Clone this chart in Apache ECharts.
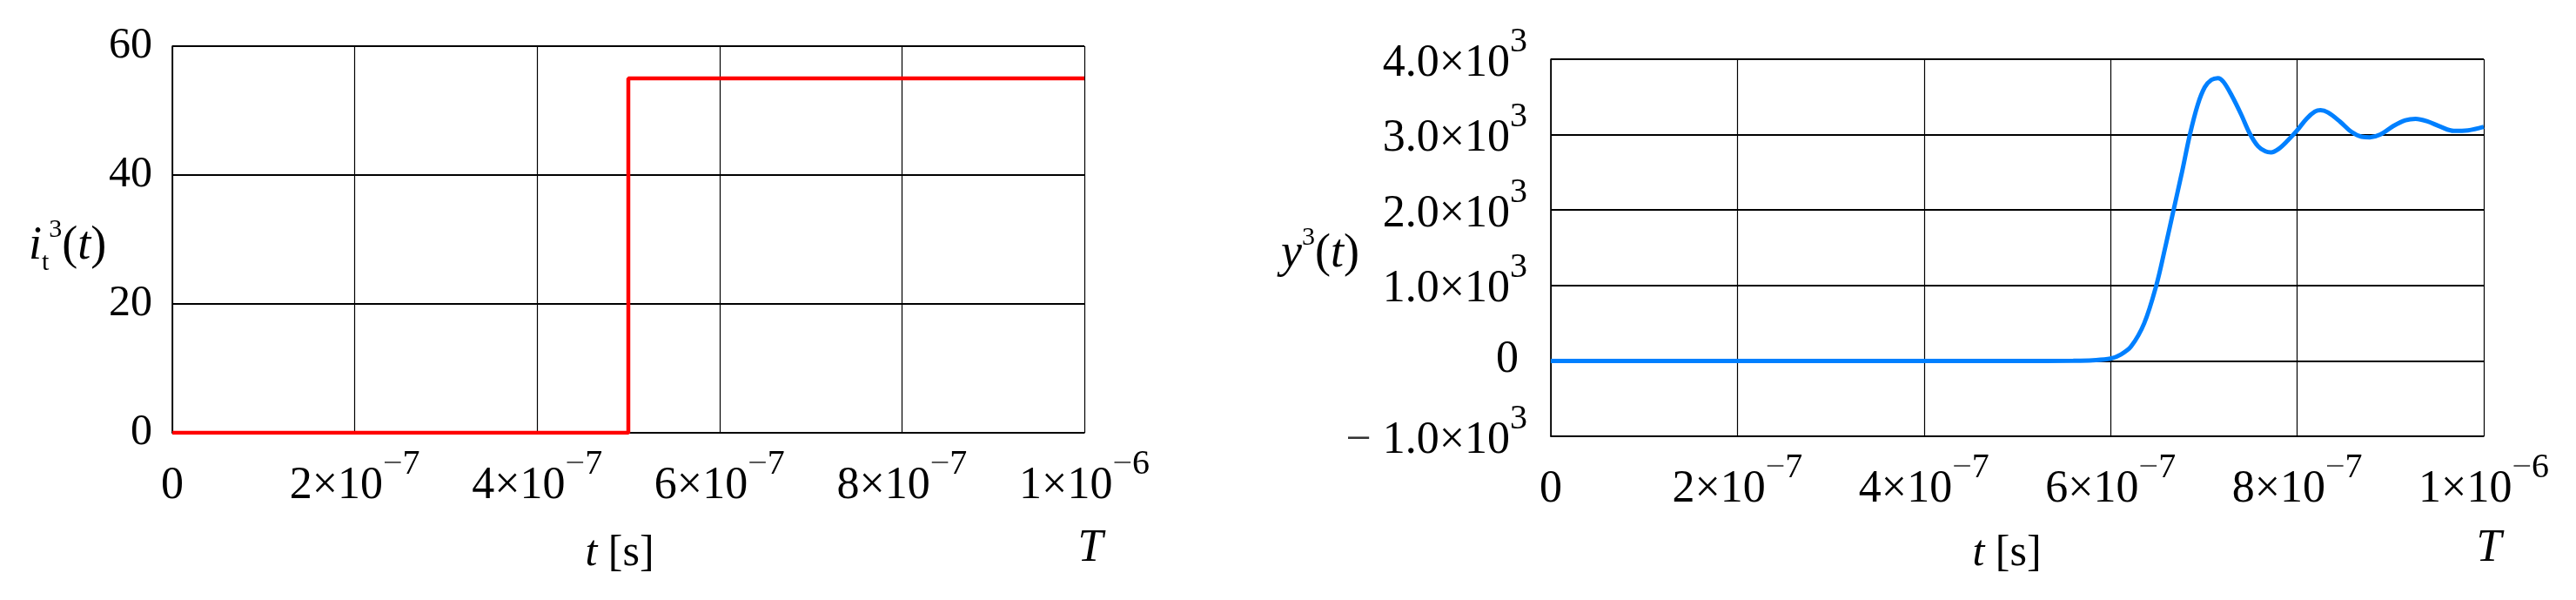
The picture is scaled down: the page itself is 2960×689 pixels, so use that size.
<!DOCTYPE html>
<html><head><meta charset="utf-8">
<script src="https://cdn.jsdelivr.net/npm/echarts@6/dist/echarts.min.js"></script>
<style>html,body{margin:0;padding:0;background:#fff}#c{width:2960px;height:689px}</style>
</head><body><div id="c"></div>
<script>
// ---- tick labels ----
const xTickMant = ['0', '2', '4', '6', '8', '1'];
const xTickExp = ['', '7', '7', '7', '7', '6'];
const leftYTicks = ['0', '20', '40', '60'];
const rightYMant = ['1.0', '0', '1.0', '2.0', '3.0', '4.0'];
const rightYNeg = [true, false, false, false, false, false];

// ---- left chart: input current step i_t^3(t) ----
const stepT = [0, 5e-7, 5e-7, 1e-6];
const stepI = [0, 0, 55, 55];

// ---- right chart: response y^3(t) ----
const respT = [0, 0.1e-6, 0.2e-6, 0.3e-6, 0.4e-6, 0.5e-6, 0.56e-6, 0.581e-6, 0.600e-6, 0.611e-6,
  0.622e-6, 0.636e-6, 0.649e-6, 0.6585e-6, 0.6675e-6, 0.6765e-6, 0.685e-6, 0.6935e-6, 0.701e-6, 0.708e-6,
  0.715e-6, 0.721e-6, 0.730e-6, 0.740e-6, 0.749e-6, 0.758e-6, 0.766e-6, 0.772e-6, 0.780e-6, 0.790e-6,
  0.800e-6, 0.810e-6, 0.819e-6, 0.825e-6, 0.833e-6, 0.846e-6, 0.858e-6, 0.869e-6, 0.878e-6, 0.889e-6,
  0.903e-6, 0.916e-6, 0.927e-6, 0.939e-6, 0.954e-6, 0.968e-6, 0.983e-6, 1.0e-6];
const respY = [0, 0, 0, 0, 0, 0, 2, 8, 30, 84,
  191, 497, 1000, 1500, 2000, 2500, 3000, 3400, 3630, 3726,
  3750, 3700, 3515, 3267, 3019, 2847, 2778, 2765, 2809, 2923,
  3057, 3210, 3305, 3324, 3294, 3172, 3038, 2973, 2965, 3000,
  3114, 3191, 3210, 3179, 3103, 3050, 3057, 3103];

const FONT = "'Liberation Serif', 'DejaVu Serif', serif";
const BLACK = '#000';

const supRich = {
  m: { fontFamily: FONT, fontSize: 52, lineHeight: 71, verticalAlign: 'bottom', color: BLACK },
  neg: { fontFamily: FONT, fontSize: 52, lineHeight: 71, verticalAlign: 'bottom', color: '#333' },
  e: { fontFamily: FONT, fontSize: 40, lineHeight: 10, verticalAlign: 'top', color: BLACK },
  em: { fontFamily: FONT, fontSize: 40, lineHeight: 10, verticalAlign: 'top', color: '#555' },
  z: { fontFamily: FONT, fontSize: 52, lineHeight: 59, verticalAlign: 'bottom', color: BLACK },
  zs: { fontFamily: FONT, fontSize: 40, lineHeight: 10, verticalAlign: 'top', color: BLACK }
};

function xFmt(v) {
  const i = Math.round(v / 2e-7);
  if (i === 0) return '{m|' + xTickMant[0] + '}';
  return '{m|' + xTickMant[i] + '×10}{em|−}{e|' + xTickExp[i] + '}';
}
function rightYFmt(v) {
  const i = Math.round((v + 1000) / 1000);
  if (rightYMant[i] === '0') return '{z|0}{zs| }';
  return (rightYNeg[i] ? '{neg|− }' : '') + '{m|' + rightYMant[i] + '×10}{e|3}';
}
function leftYFmt(v) {
  return leftYTicks[Math.round(v / 20)];
}

const hSplit = { show: true, lineStyle: { color: '#000', width: 1.8 } };
const vSplit = { show: true, lineStyle: { color: '#000', width: 1.2 } };
const axLine = { show: true, onZero: false, lineStyle: { color: '#000', width: 1.6 } };

const titleRich = {
  it: { fontFamily: FONT, fontSize: 54, fontStyle: 'italic', lineHeight: 68, verticalAlign: 'middle', fill: BLACK },
  n: { fontFamily: FONT, fontSize: 54, lineHeight: 68, verticalAlign: 'middle', fill: BLACK },
  sub: { fontFamily: FONT, fontSize: 30, lineHeight: 10, verticalAlign: 'bottom', fill: BLACK },
  sup: { fontFamily: FONT, fontSize: 30, lineHeight: 10, verticalAlign: 'top', fill: BLACK }
};

const chart = echarts.init(document.getElementById('c'), null, { renderer: 'canvas' });
chart.setOption({
  animation: false,
  backgroundColor: '#fff',
  grid: [
    { left: 198, top: 53, width: 1048, height: 444, containLabel: false, outerBoundsMode: 'none' },
    { left: 1782, top: 68, width: 1072, height: 433, containLabel: false, outerBoundsMode: 'none' }
  ],
  xAxis: [0, 1].map(g => ({
    type: 'value', gridIndex: g, min: 0, max: 1e-6, interval: 2e-7,
    axisLine: axLine, axisTick: { show: false }, splitLine: vSplit,
    axisLabel: { formatter: xFmt, margin: 16, rich: supRich, showMinLabel: true, showMaxLabel: true, hideOverlap: false }
  })),
  yAxis: [
    { type: 'value', gridIndex: 0, min: 0, max: 60, interval: 20,
      axisLine: axLine, axisTick: { show: false }, splitLine: hSplit,
      axisLabel: { formatter: leftYFmt, margin: 23, fontFamily: FONT, fontSize: 50, color: BLACK } },
    { type: 'value', gridIndex: 1, min: -1000, max: 4000, interval: 1000,
      axisLine: axLine, axisTick: { show: false }, splitLine: hSplit,
      axisLabel: { formatter: rightYFmt, margin: 27, padding: [0, 0, 9, 0], rich: supRich } }
  ],
  series: [
    { type: 'line', xAxisIndex: 0, yAxisIndex: 0, symbol: 'none',
      data: stepT.map((t, k) => [t, stepI[k]]),
      lineStyle: { color: '#ff0000', width: 4.5 }, z: 5 },
    { type: 'line', xAxisIndex: 1, yAxisIndex: 1, symbol: 'none', smooth: 0.35,
      data: respT.map((t, k) => [t, respY[k]]),
      lineStyle: { color: '#0080ff', width: 5 }, z: 5 }
  ],
  graphic: [
    { type: 'text', x: 33, y: 283, style: {
        text: '{it|i}{sub|t}{sup|3}{n|(}{it|t}{n|)}', fill: BLACK, align: 'left', verticalAlign: 'middle',
        rich: titleRich } },
    { type: 'text', x: 1472, y: 292, style: {
        text: '{it|y}{sup|3}{n|(}{it|t}{n|)}', fill: BLACK, align: 'left', verticalAlign: 'middle',
        rich: titleRich } },
    { type: 'text', x: 712, y: 636, style: {
        text: '{it|t}{n| [s]}', fill: BLACK, align: 'center', verticalAlign: 'middle',
        rich: { it: { fontFamily: FONT, fontSize: 50, fontStyle: 'italic', fill: BLACK },
                n: { fontFamily: FONT, fontSize: 50, fill: BLACK } } } },
    { type: 'text', x: 2306, y: 636, style: {
        text: '{it|t}{n| [s]}', fill: BLACK, align: 'center', verticalAlign: 'middle',
        rich: { it: { fontFamily: FONT, fontSize: 50, fontStyle: 'italic', fill: BLACK },
                n: { fontFamily: FONT, fontSize: 50, fill: BLACK } } } },
    { type: 'text', x: 1253, y: 630, style: {
        text: 'T', fill: BLACK, align: 'center', verticalAlign: 'middle',
        fontFamily: FONT, fontSize: 52, fontStyle: 'italic' } },
    { type: 'text', x: 2860, y: 630, style: {
        text: 'T', fill: BLACK, align: 'center', verticalAlign: 'middle',
        fontFamily: FONT, fontSize: 52, fontStyle: 'italic' } }
  ]
});
</script>
</body></html>
